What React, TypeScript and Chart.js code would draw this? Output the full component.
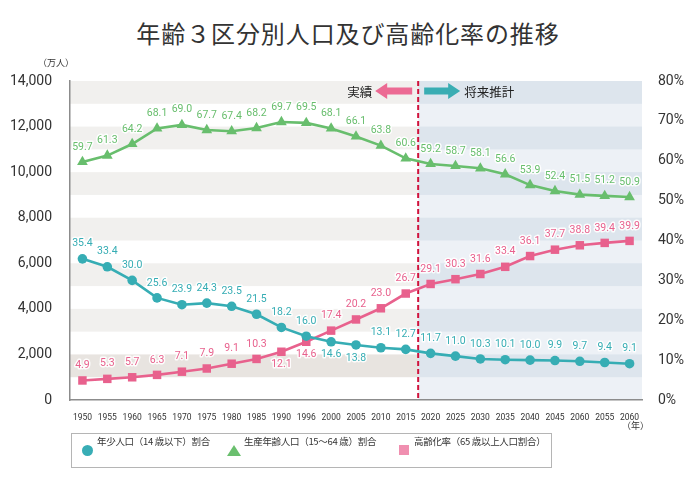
import React, { useEffect, useRef } from "react";
import { Chart, registerables } from "chart.js";

Chart.register(...registerables);

// ---- data ----
const yearLabels = [
  "1950", "1955", "1960", "1965", "1970", "1975", "1980", "1985", "1990", "1996",
  "2000", "2005", "2010", "2015", "2020", "2025", "2030", "2035", "2040", "2045",
  "2060", "2055", "2060",
];
const childShare = [
  35.4, 33.4, 30.0, 25.6, 23.9, 24.3, 23.5, 21.5, 18.2, 16.0, 14.6, 13.8, 13.1, 12.7,
  11.7, 11.0, 10.3, 10.1, 10.0, 9.9, 9.7, 9.4, 9.1,
];
const workingShare = [
  59.7, 61.3, 64.2, 68.1, 69.0, 67.7, 67.4, 68.2, 69.7, 69.5, 68.1, 66.1, 63.8, 60.6,
  59.2, 58.7, 58.1, 56.6, 53.9, 52.4, 51.5, 51.2, 50.9,
];
const elderlyShare = [
  4.9, 5.3, 5.7, 6.3, 7.1, 7.9, 9.1, 10.3, 12.1, 14.6, 17.4, 20.2, 23.0, 26.7, 29.1,
  30.3, 31.6, 33.4, 36.1, 37.7, 38.8, 39.4, 39.9,
];
// indices whose value label sits below the marker
const childLabelsBelow = [10, 11];
const workingLabelsBelow: number[] = [];
const elderlyLabelsBelow = [8, 9];
const lastActualIndex = 13;

const seriesNames = [
  "年少人口（14 歳以下）割合",
  "生産年齢人口（15～64 歳）割合",
  "高齢化率（65 歳以上人口割合）",
];

const TEAL = "#36adb4";
const GREEN = "#68be6d";
const PINK = "#e8618d";

const belowSets = [childLabelsBelow, workingLabelsBelow, elderlyLabelsBelow];

const bandsPlugin = {
  id: "bands",
  beforeDraw(chart: any) {
    const { ctx, chartArea } = chart;
    const y = chart.scales.y;
    const x = chart.scales.x;
    const split =
      (x.getPixelForValue(lastActualIndex) + x.getPixelForValue(lastActualIndex + 1)) / 2;
    ctx.save();
    ctx.fillStyle = "#edf1f6";
    ctx.fillRect(split, chartArea.top, chartArea.right - split, chartArea.bottom - chartArea.top);
    for (let v = 14000; v >= 2000; v -= 2000) {
      const t = y.getPixelForValue(v);
      const b = y.getPixelForValue(v - 1000);
      ctx.fillStyle = v === 2000 ? "#e8e4e0" : "#f1f0ee";
      ctx.fillRect(chartArea.left, t, split - chartArea.left, b - t);
      ctx.fillStyle = "#dde5ed";
      ctx.fillRect(split, t, chartArea.right - split, b - t);
    }
    ctx.restore();
  },
  beforeDatasetsDraw(chart: any) {
    const { ctx, chartArea } = chart;
    const x = chart.scales.x;
    const split =
      (x.getPixelForValue(lastActualIndex) + x.getPixelForValue(lastActualIndex + 1)) / 2;
    ctx.save();
    ctx.strokeStyle = "#d0123c";
    ctx.lineWidth = 2;
    ctx.setLineDash([5, 3]);
    ctx.beginPath();
    ctx.moveTo(split, chartArea.top);
    ctx.lineTo(split, chartArea.bottom);
    ctx.stroke();
    ctx.restore();

    const cy = chartArea.top + 10;
    ctx.save();
    const arrow = (x0: number, x1: number, color: string) => {
      const dir = Math.sign(x1 - x0);
      const headLen = 12;
      const shaft = 3.5;
      const head = 8;
      const hx = x1 - dir * headLen;
      ctx.fillStyle = color;
      ctx.beginPath();
      ctx.moveTo(x0, cy - shaft);
      ctx.lineTo(hx, cy - shaft);
      ctx.lineTo(hx, cy - head);
      ctx.lineTo(x1, cy);
      ctx.lineTo(hx, cy + head);
      ctx.lineTo(hx, cy + shaft);
      ctx.lineTo(x0, cy + shaft);
      ctx.closePath();
      ctx.fill();
    };
    arrow(split - 6, split - 43, "#ec6a93");
    arrow(split + 6, split + 42, "#39adb3");
    ctx.fillStyle = "#222";
    ctx.font = '12.5px "Noto Sans CJK JP"';
    ctx.textBaseline = "middle";
    ctx.textAlign = "right";
    ctx.fillText("実績", split - 46, cy + 1);
    ctx.textAlign = "left";
    ctx.fillText("将来推計", split + 46, cy + 1);
    ctx.restore();
  },
  afterDatasetsDraw(chart: any) {
    const { ctx } = chart;
    ctx.save();
    ctx.font = "10.5px Roboto";
    ctx.textAlign = "center";
    ctx.textBaseline = "middle";
    ctx.lineJoin = "round";
    chart.data.datasets.forEach((ds: any, di: number) => {
      const meta = chart.getDatasetMeta(di);
      meta.data.forEach((pt: any, i: number) => {
        const below = belowSets[di].includes(i);
        const ty = below ? pt.y + 13 : pt.y - 15;
        const txt = Number(ds.data[i]).toFixed(1);
        ctx.strokeStyle = "rgba(255,255,255,0.9)";
        ctx.lineWidth = 3;
        ctx.strokeText(txt, pt.x, ty);
        ctx.fillStyle = ds.borderColor;
        ctx.fillText(txt, pt.x, ty);
      });
    });
    ctx.restore();
  },
};

function LegendBox() {
  const text: React.CSSProperties = {
    position: "absolute",
    top: 0,
    lineHeight: "33px",
    font: '9.5px "Noto Sans CJK JP"',
    letterSpacing: "-0.3px",
    color: "#333",
    whiteSpace: "nowrap",
  };
  return (
    <div
      style={{
        position: "absolute",
        left: 71,
        top: 433,
        width: 481,
        height: 35,
        boxSizing: "border-box",
        border: "1.5px solid #b5b5b5",
      }}
    >
      <div
        style={{
          position: "absolute",
          left: 10,
          top: 11,
          width: 11,
          height: 11,
          borderRadius: "50%",
          background: "#38adb5",
        }}
      />
      <span style={{ ...text, left: 25 }}>{seriesNames[0]}</span>
      <svg
        style={{ position: "absolute", left: 155, top: 11 }}
        width={14}
        height={11}
        viewBox="0 0 14 11"
      >
        <polygon points="7,0 14,11 0,11" fill="#6abf6e" />
      </svg>
      <span style={{ ...text, left: 172 }}>{seriesNames[1]}</span>
      <div
        style={{
          position: "absolute",
          left: 327,
          top: 11,
          width: 10,
          height: 10,
          background: "#f08fb0",
        }}
      />
      <span style={{ ...text, left: 342 }}>{seriesNames[2]}</span>
    </div>
  );
}

export default function App() {
  const canvasRef = useRef<HTMLCanvasElement | null>(null);

  useEffect(() => {
    if (!canvasRef.current) return;
    const mk = (label: string, data: number[], color: string, style: string, r: number) => ({
      label,
      data,
      yAxisID: "y1",
      borderColor: color,
      backgroundColor: color,
      borderWidth: 2.6,
      pointStyle: style,
      pointRadius: r,
      pointHoverRadius: r,
      pointBorderWidth: 0,
      tension: 0,
    });
    const chart = new Chart(canvasRef.current, {
      type: "line",
      data: {
        labels: yearLabels,
        datasets: [
          mk(seriesNames[0], childShare, TEAL, "circle", 4.8),
          mk(seriesNames[1], workingShare, GREEN, "triangle", 6.2),
          mk(seriesNames[2], elderlyShare, PINK, "rect", 6),
        ] as any,
      },
      options: {
        animation: false,
        responsive: true,
        maintainAspectRatio: false,
        layout: { padding: { top: 81, bottom: 67, left: 0, right: 0 } },
        plugins: {
          legend: { display: false },
          tooltip: { enabled: false },
          title: { display: false },
        },
        scales: {
          x: {
            type: "category",
            offset: true,
            grid: { display: false },
            border: { display: true, color: "#8c8c8c", width: 1.5 },
            ticks: {
              autoSkip: false,
              maxRotation: 0,
              padding: 5,
              color: "#333",
              font: { family: '"Liberation Sans Narrow", Roboto', size: 8.5 },
            },
            afterFit: (s: any) => {
              s.height = 22;
            },
          },
          y: {
            position: "left",
            min: 0,
            max: 14000,
            grid: { display: false },
            border: { display: true, color: "#8c8c8c", width: 1.5 },
            ticks: {
              stepSize: 2000,
              padding: 10,
              color: "#333",
              font: { family: "Roboto", size: 14 },
              callback: (v: any) => Number(v).toLocaleString("en-US"),
            },
            afterFit: (s: any) => {
              s.width = 70;
            },
          },
          y1: {
            position: "right",
            min: 0,
            max: 80,
            grid: { display: false },
            border: { display: false },
            ticks: {
              stepSize: 10,
              padding: 8,
              color: "#333",
              font: { family: "Roboto", size: 14 },
              callback: (v: any) => `${v}%`,
            },
            afterFit: (s: any) => {
              s.width = 54;
            },
          },
        },
      } as any,
      plugins: [bandsPlugin],
    });
    return () => chart.destroy();
  }, []);

  return (
    <div
      style={{
        position: "fixed",
        left: 0,
        top: 0,
        width: 696,
        height: 489,
        background: "#fff",
        overflow: "hidden",
      }}
    >
      <div
        style={{
          position: "absolute",
          left: 0,
          width: 696,
          top: 17,
          textAlign: "center",
          font: '24px "Noto Sans CJK JP"',
          letterSpacing: "0.9px",
          color: "#333",
          lineHeight: "32px",
        }}
      >
        年齢３区分別人口及び高齢化率の推移
      </div>
      <div style={{ position: "absolute", width: 696, height: 489, left: 0, top: 0 }}>
        <canvas ref={canvasRef} />
      </div>
      <div
        style={{
          position: "absolute",
          left: 38,
          top: 56,
          font: '9px "Noto Sans CJK JP"',
          color: "#333",
        }}
      >
        （万人）
      </div>
      <div
        style={{
          position: "absolute",
          left: 622,
          top: 419,
          font: '9px "Noto Sans CJK JP"',
          color: "#333",
        }}
      >
        （年）
      </div>
      <LegendBox />
    </div>
  );
}
